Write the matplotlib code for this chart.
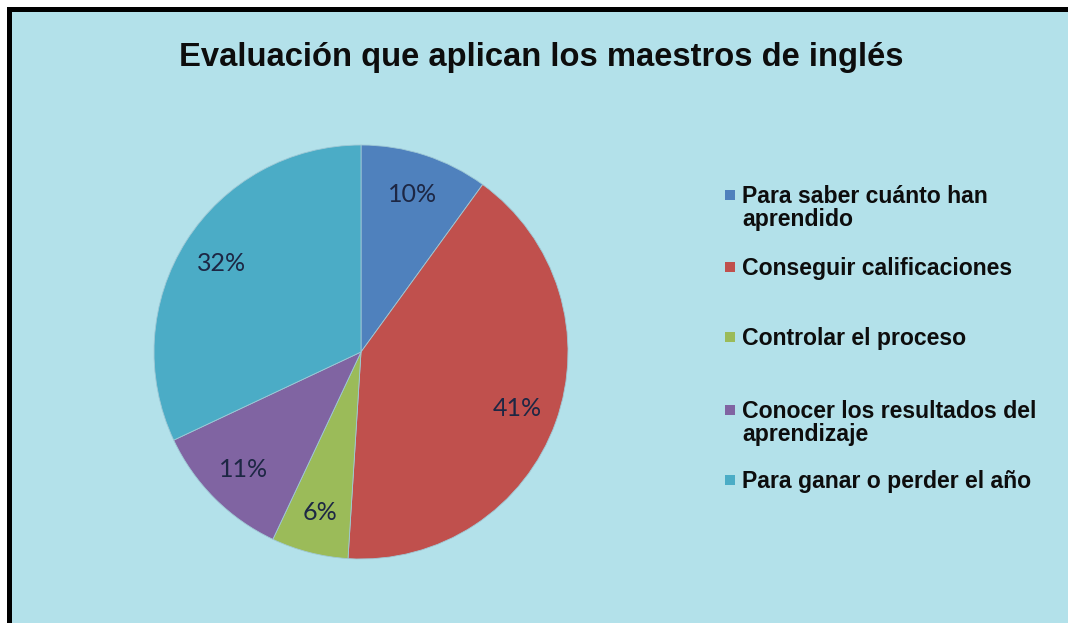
import matplotlib
matplotlib.use("Agg")
import matplotlib.pyplot as plt
from matplotlib.patches import Rectangle

# ---- data ----
title = "Evaluación que aplican los maestros de inglés"
categories = [
    "Para saber cuánto han\naprendido",
    "Conseguir calificaciones",
    "Controlar el proceso",
    "Conocer los resultados del\naprendizaje",
    "Para ganar o perder el año",
]
values = [10, 41, 6, 11, 32]
colors = ["#4F81BD", "#C0504D", "#9BBB59", "#8064A2", "#4BACC6"]

W, H = 1068, 623
fig = plt.figure(figsize=(W / 100, H / 100), dpi=100)
fig.patch.set_facecolor("white")

def fx(px):
    return px / W

def fy(py):
    return 1 - py / H

# frame: black border on top/left, cyan background
fig.patches.append(Rectangle((fx(7), 0), 1 - fx(7), fy(7), transform=fig.transFigure,
                             facecolor="black", edgecolor="none", zorder=-20))
fig.patches.append(Rectangle((fx(12), 0), 1 - fx(12), fy(12), transform=fig.transFigure,
                             facecolor="#B3E1EA", edgecolor="none", zorder=-10))

# title
fig.text(fx(541), fy(66), title, ha="center", va="baseline",
         fontsize=23.6, fontweight="bold", family="Liberation Sans", color="#0d0d0d")

# pie
cx, cy, r = 361, 352, 207
ax = fig.add_axes([fx(cx - r), fy(cy + r), 2 * r / W, 2 * r / H])
ax.set_zorder(5)
ax.patch.set_visible(False)
wedges, texts, autotexts = ax.pie(
    values, colors=colors, startangle=90, counterclock=False, radius=1,
    autopct=lambda p: f"{p:.0f}%", pctdistance=0.8,
    wedgeprops=dict(edgecolor="#9fc9d6", linewidth=0.6),
    textprops=dict(fontsize=18, family="Lato", color="#1d2744"),
)
ax.set_xlim(-1, 1)
ax.set_ylim(-1, 1)
ax.set_aspect("equal")
ax.axis("off")

# legend (manual, Excel style)
baselines = [203, 275, 345, 418, 488]
line_gap = 23
text_x = 742
for lab, col, b in zip(categories, colors, baselines):
    fig.patches.append(Rectangle((fx(725), fy(b - 3)), 10 / W, 10 / H,
                                 transform=fig.transFigure, facecolor=col,
                                 edgecolor="none", zorder=3))
    for i, line in enumerate(lab.split("\n")):
        fig.text(fx(text_x), fy(b + i * line_gap), line, ha="left", va="baseline",
                 fontsize=16.6, fontweight="bold", family="Liberation Sans",
                 color="#0d0d0d")

fig.savefig("out.png", dpi=100, facecolor=fig.get_facecolor())
